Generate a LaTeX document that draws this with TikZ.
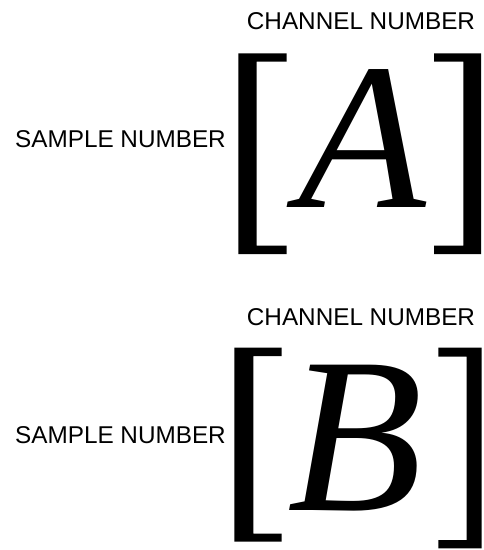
\documentclass[tikz,border=0pt]{standalone}
\usepackage{fontspec}
\setmainfont{Liberation Sans}
\newfontfamily\letterfont{Liberation Serif}
\begin{document}
\begin{tikzpicture}[x=1pt,y=-1pt,
  label/.style={inner sep=0pt,anchor=base,font=\fontsize{24.3}{26}\selectfont},
  bigletter/.style={inner sep=0pt,anchor=base,text depth=0pt},
  bracket/.style={fill=black,draw=none}]
\useasboundingbox (0,0) rectangle (483,550);
% top group
\node[label] (chanA) at (361,29.3) {CHANNEL NUMBER};
\node[label] (sampA) at (120.5,147.3) {SAMPLE NUMBER};
\fill[bracket] (238.3,53.3) -- (286.7,53.3) -- (286.7,61.7) -- (256.7,61.7) -- (256.7,245.5) -- (286.7,245.5) -- (286.7,254) -- (238.3,254) -- cycle;
\fill[bracket] (481,53.3) -- (434,53.3) -- (434,61.7) -- (463.3,61.7) -- (463.3,245.5) -- (434,245.5) -- (434,254) -- (481,254) -- cycle;
\node[bigletter,font=\letterfont\itshape\fontsize{209}{209}\selectfont] (letA) at (362,207) {A};
% bottom group
\node[label] (chanB) at (361,325) {CHANNEL NUMBER};
\node[label] (sampB) at (120.5,443.3) {SAMPLE NUMBER};
\fill[bracket] (234.3,347.7) -- (281.7,347.7) -- (281.7,356) -- (253.3,356) -- (253.3,533.5) -- (281.7,533.5) -- (281.7,541.7) -- (234.3,541.7) -- cycle;
\fill[bracket] (481.7,347.7) -- (438.3,347.7) -- (438.3,356.5) -- (466.7,356.5) -- (466.7,540) -- (438.3,540) -- (438.3,548.3) -- (481.7,548.3) -- cycle;
\node[bigletter,font=\letterfont\itshape\fontsize{222}{222}\selectfont] (letB) at (355.5,510) {B};
\end{tikzpicture}
\end{document}
